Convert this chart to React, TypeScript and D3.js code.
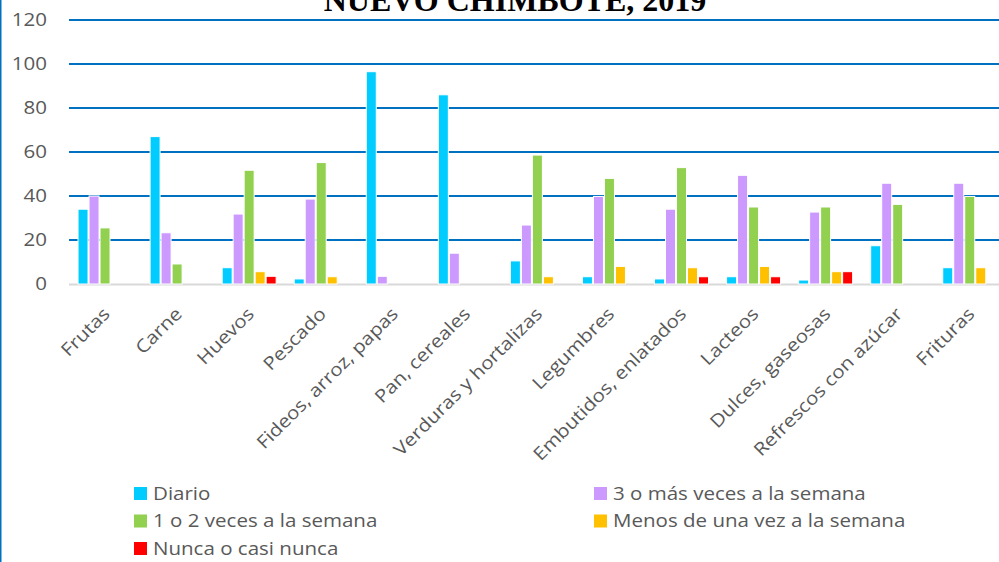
import React from "react";
import * as d3 from "d3";

const categories = [
  "Frutas", "Carne", "Huevos", "Pescado", "Fideos, arroz, papas", "Pan, cereales",
  "Verduras y hortalizas", "Legumbres", "Embutidos, enlatados", "Lacteos",
  "Dulces, gaseosas", "Refrescos con azúcar", "Frituras",
];
const seriesNames = [
  "Diario", "3 o más veces a la semana", "1 o 2 veces a la semana",
  "Menos de una vez a la semana", "Nunca o casi nunca",
];
const diario = [34, 67, 7.4, 2.3, 96.5, 86, 10.5, 3.3, 2.3, 3.3, 1.8, 17.4, 7.4];
const tresOMas = [40, 23.3, 31.8, 38.6, 3.5, 14, 26.8, 39.8, 34, 49.4, 32.7, 45.8, 45.8];
const unoODos = [25.5, 9.1, 51.7, 55.2, 0, 0, 58.6, 48, 52.9, 35, 35, 36.2, 39.8];
const menos = [0, 0, 5.6, 3.3, 0, 0, 3.3, 8, 7.4, 8, 5.6, 0, 7.4];
const nunca = [0, 0, 3.5, 0, 0, 0, 0, 0, 3.3, 3.3, 5.6, 0, 0];
const yTicks = [0, 20, 40, 60, 80, 100, 120];
const title = "NUEVO CHIMBOTE, 2019";

const seriesValues = [diario, tresOMas, unoODos, menos, nunca];
const colors = ["#00CCFF", "#CC99FF", "#92D050", "#FFC000", "#FF0000"];

export default function App() {
  const W = 999, H = 562;
  const plotL = 69, catW = 72.06;
  const sx = 1.14;
  const x0 = d3.scaleBand<string>().domain(categories).range([plotL, plotL + catW * categories.length]).padding(0);
  const gapHalf = (catW - 55) / 2;
  const x1 = d3.scaleBand<number>().domain(d3.range(5)).range([gapHalf, catW - gapHalf]).padding(0);
  const y = d3.scaleLinear().domain([0, 120]).range([284, 20]);
  const font = "'Open Sans', 'Noto Sans', sans-serif";

  return (
    <svg width={W} height={H} style={{ position: "absolute", left: 0, top: 0, background: "#fff" }}>
      <rect x={0} y={0} width={W} height={H} fill="#fff" />
      <line x1={0.75} x2={0.75} y1={0} y2={H} stroke="#0070C0" strokeWidth={1.5} />
      <text x={515} y={11} textAnchor="middle" fontFamily="'Liberation Serif', 'Times New Roman', serif" fontWeight="bold" fontSize={32} fill="#000">{title}</text>
      {yTicks.filter(t => t > 0).map(t => (
        <line key={t} x1={plotL} x2={W} y1={y(t)} y2={y(t)} stroke="#0070C0" strokeWidth={2.2} />
      ))}
      <line x1={plotL} x2={W} y1={y(0) + 0.5} y2={y(0) + 0.5} stroke="#D9D9D9" strokeWidth={2} />
      {yTicks.map(t => (
        <text key={t} transform={`translate(47,${y(t)}) scale(${sx},1)`} dy="0.35em" textAnchor="end"
          fontFamily={font} fontSize={18} fill="#595959">{t}</text>
      ))}
      {categories.map((c, ci) => (
        <g key={c} transform={`translate(${x0(c)},0)`}>
          {seriesValues.map((vals, si) => vals[ci] > 0 ? (
            <rect key={si} x={(x1(si) as number) + 0.5} width={x1.bandwidth() - 1}
              y={y(vals[ci])} height={y(0) - y(vals[ci])}
              fill={colors[si]} stroke="#fff" strokeWidth={1} />
          ) : null)}
        </g>
      ))}
      {categories.map(c => {
        const cx = (x0(c) as number) + catW / 2 + 6;
        const cy = 315;
        return (
          <text key={c} transform={`translate(${cx},${cy}) rotate(-45) scale(${sx},1)`} textAnchor="end"
            fontFamily={font} fontSize={18} fill="#595959">{c}</text>
        );
      })}
      {seriesNames.map((s, i) => {
        const col = i % 2, row = Math.floor(i / 2);
        const lx = col === 0 ? 134 : 594;
        const ly = 493.5 + row * 27.5;
        return (
          <g key={s}>
            <rect x={lx} y={ly - 6.5} width={13} height={13} fill={colors[i]} />
            <text transform={`translate(${lx + 19},${ly}) scale(${sx},1)`} dy="0.35em"
              fontFamily={font} fontSize={18} fill="#595959">{s}</text>
          </g>
        );
      })}
    </svg>
  );
}
